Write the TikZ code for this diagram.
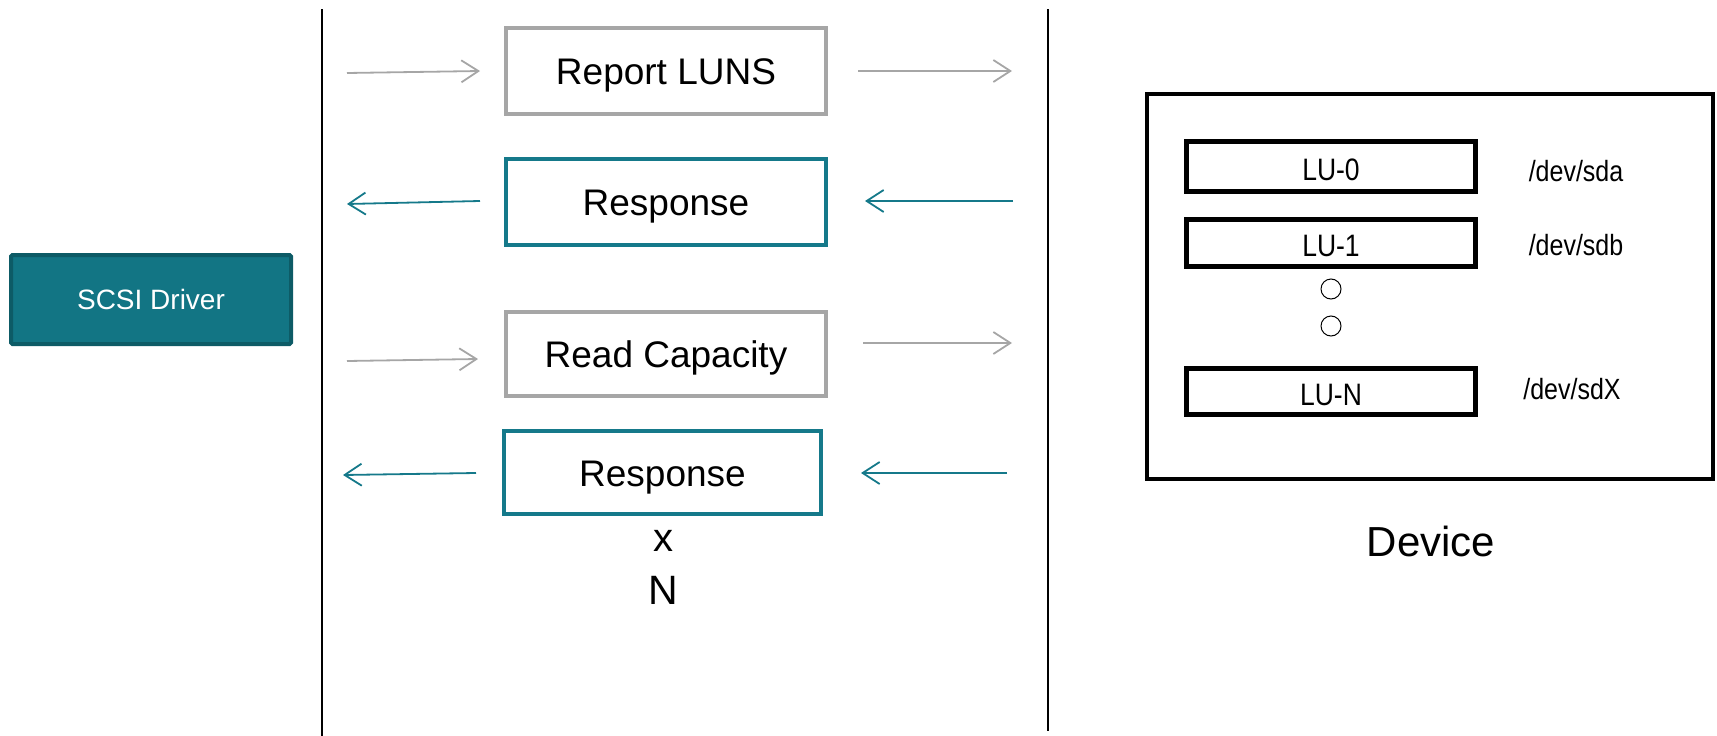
\documentclass[tikz,border=0pt]{standalone}
\usepackage{graphicx}
\usepackage{fontspec}
\setmainfont{Liberation Sans}
\usetikzlibrary{arrows.meta}

\definecolor{tealfill}{HTML}{127584}
\definecolor{tealedge}{HTML}{0D5B66}
\definecolor{tealline}{HTML}{15798A}
\definecolor{greyline}{HTML}{A6A6A6}

% slightly tall lettering used inside the device
\newcommand{\tallText}[1]{\scalebox{1}[1.17]{#1}}

\tikzset{
  msgbox/.style={draw, line width=4pt, minimum width=320pt, minimum height=86pt,
    inner sep=0pt, text height=27pt, text depth=0pt,
    font=\fontsize{37}{40}\selectfont},
  reqbox/.style={msgbox, draw=greyline},
  rspbox/.style={msgbox, draw=tealline},
  lubox/.style={draw=black, line width=5pt, minimum width=289pt, minimum height=49pt,
    inner sep=0pt, text height=27pt, text depth=0pt,
    font=\fontsize{26.5}{30}\selectfont},
  devlabel/.style={font=\fontsize{25}{28}\selectfont, inner sep=0pt},
  reqarrow/.style={draw=greyline, line width=1.8pt,
    -{Straight Barb[length=17pt,width=22pt]}},
  rsparrow/.style={draw=tealline, line width=1.8pt,
    -{Straight Barb[length=17pt,width=22pt]}},
  divider/.style={draw=black, line width=2pt},
}

\begin{document}
\begin{tikzpicture}[x=1pt, y=-1pt]
\useasboundingbox (0,0) rectangle (1717,736);

% host / transport / device separators
\coordinate (sepAtop) at (322,9);
\coordinate (sepAbot) at (322,736);
\coordinate (sepBtop) at (1048,9);
\coordinate (sepBbot) at (1048,731);
\draw[divider] (sepAtop) -- (sepAbot);
\draw[divider] (sepBtop) -- (sepBbot);

% host side
\node[draw=tealedge, fill=tealfill, line width=4pt, rounded corners=1.5pt,
      minimum width=280pt, minimum height=89pt, inner sep=0pt, text=white,
      text height=20.5pt, text depth=0pt,
      font=\fontsize{28}{30}\selectfont] (scsi) at (151,299.5) {SCSI Driver};

% command / response exchange
\node[reqbox] (luns) at (666,71) {Report LUNS};
\node[rspbox] (resp1) at (666,202) {Response};
\node[reqbox, minimum height=84pt] (readcap) at (666,354) {Read Capacity};
\node[rspbox, minimum width=317pt, minimum height=83pt] (resp2) at (662.5,472.5) {Response};
\node[font=\fontsize{40}{42}\selectfont, inner sep=0pt] (times) at (663,541) {x};
\node[font=\fontsize{41}{44}\selectfont, inner sep=0pt] (count) at (663,590) {N};

% arrow end points
\coordinate (a1s) at (347,73);   \coordinate (a1e) at (480,71);
\coordinate (b1s) at (858,71);   \coordinate (b1e) at (1012,71);
\coordinate (a2s) at (480,201);  \coordinate (a2e) at (347,204);
\coordinate (b2s) at (1013,201); \coordinate (b2e) at (865,201);
\coordinate (a3s) at (347,361);  \coordinate (a3e) at (478,359);
\coordinate (b3s) at (863,343);  \coordinate (b3e) at (1012,343);
\coordinate (a4s) at (476,473);  \coordinate (a4e) at (343,475);
\coordinate (b4s) at (1007,473); \coordinate (b4e) at (861,473);

\draw[reqarrow] (a1s) -- (a1e);
\draw[reqarrow] (b1s) -- (b1e);
\draw[rsparrow] (a2s) -- (a2e);
\draw[rsparrow] (b2s) -- (b2e);
\draw[reqarrow] (a3s) -- (a3e);
\draw[reqarrow] (b3s) -- (b3e);
\draw[rsparrow] (a4s) -- (a4e);
\draw[rsparrow] (b4s) -- (b4e);

% device with its logical units
\node[draw=black, line width=4pt, minimum width=566pt, minimum height=385pt,
      inner sep=0pt] (device) at (1430,286.5) {};
\node[lubox, minimum height=50pt] (lu0) at (1331,166.5) {\tallText{LU-0}};
\node[lubox, minimum height=47pt] (lu1) at (1331,243) {\tallText{LU-1}};
\node[lubox, minimum height=46pt] (luN) at (1331,391.5) {\tallText{LU-N}};
\node[draw=black, line width=1pt, circle, minimum size=20pt, inner sep=0pt] (dot1) at (1331,289) {};
\node[draw=black, line width=1pt, circle, minimum size=20pt, inner sep=0pt] (dot2) at (1331,326) {};

\node[devlabel] (sda) at (1576,171) {\tallText{/dev/sda}};
\node[devlabel] (sdb) at (1576,245) {\tallText{/dev/sdb}};
\node[devlabel] (sdx) at (1572,389) {\tallText{/dev/sdX}};

\node[font=\fontsize{42}{44}\selectfont, inner sep=0pt] (devname) at (1431,541) {Device};
\end{tikzpicture}
\end{document}
